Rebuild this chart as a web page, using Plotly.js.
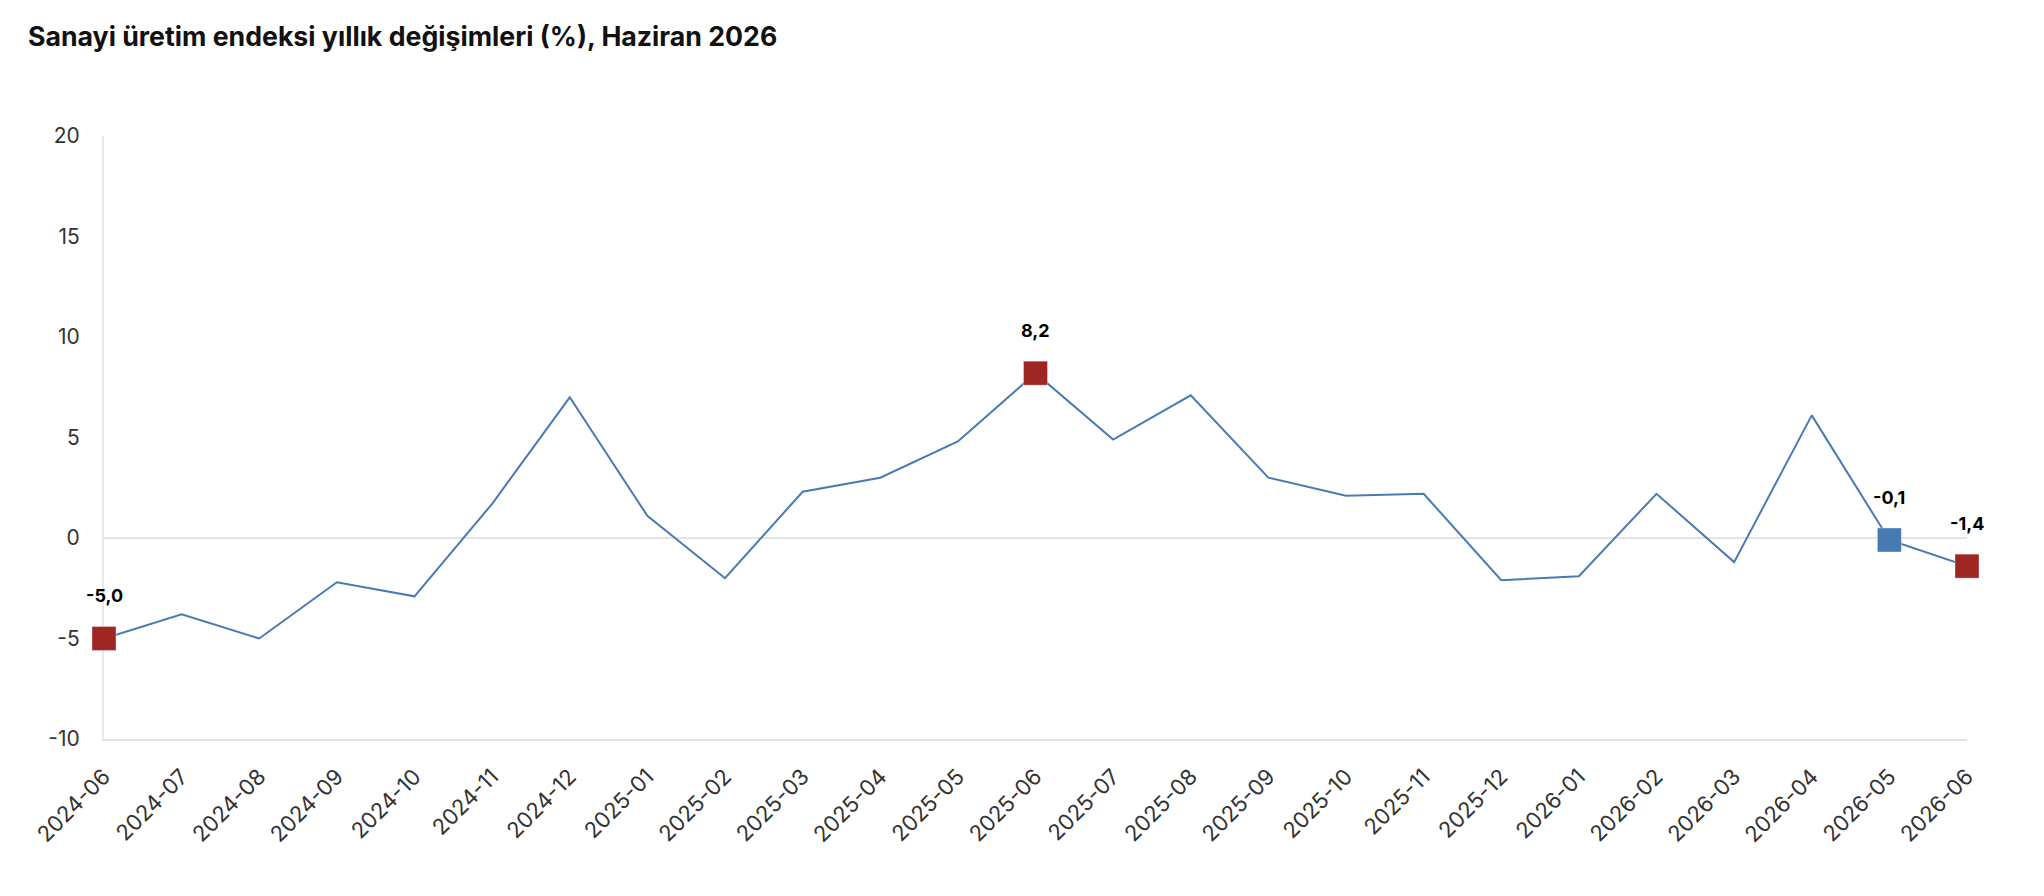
<!DOCTYPE html>
<html>
<head>
<meta charset="utf-8">
<script src="https://cdn.plot.ly/plotly-3.0.1.min.js"></script>
<style>
  html, body { margin: 0; padding: 0; background: #fff; }
  #chart { width: 2044px; height: 896px; }
</style>
</head>
<body>
<div id="chart"></div>
<script>
/* Sanayi üretim endeksi — yıllık değişim (%) */
var months = [
  '2024-06', '2024-07', '2024-08', '2024-09', '2024-10', '2024-11', '2024-12',
  '2025-01', '2025-02', '2025-03', '2025-04', '2025-05', '2025-06', '2025-07',
  '2025-08', '2025-09', '2025-10', '2025-11', '2025-12', '2026-01', '2026-02',
  '2026-03', '2026-04', '2026-05', '2026-06'
];
var values = [
  -5.0, -3.8, -5.0, -2.2, -2.9, 1.7, 7.0,
  1.1, -2.0, 2.3, 3.0, 4.8, 8.2, 4.9,
  7.1, 3.0, 2.1, 2.2, -2.1, -1.9, 2.2,
  -1.2, 6.1, -0.1, -1.4
];
var redIdx  = [0, 12, 24];   // ilk, en yüksek, son ay
var blueIdx = [23];          // önceki ay
var yTicks  = [-10, -5, 0, 5, 10, 15, 20];

var C = {
  line:  '#4a7ab4',
  red:   '#9e2724',
  blue:  '#467ab3',
  text:  '#333333',
  grid:  '#e3e3e3',
  axis:  '#e4e8ef'
};
var FONT = 'Inter, "Noto Sans", sans-serif';

function fmt(v) { return v.toFixed(1).replace('.', ','); }
function pick(arr, idx) { return idx.map(function (i) { return arr[i]; }); }

var markIdx = redIdx.concat(blueIdx);
var markColors = redIdx.map(function () { return C.red; })
  .concat(blueIdx.map(function () { return C.blue; }));

var traces = [
  {
    type: 'scatter', mode: 'lines',
    x: months, y: values,
    line: { color: C.line, width: 2 },
    hoverinfo: 'skip'
  },
  {
    type: 'scatter', mode: 'markers',
    x: pick(months, markIdx), y: pick(values, markIdx),
    marker: {
      symbol: 'square', size: 24, color: markColors,
      line: { color: 'rgba(255,255,255,0.35)', width: 1 }
    },
    cliponaxis: false,
    hoverinfo: 'skip'
  }
];

var annotations = markIdx.map(function (i) {
  return {
    x: months[i], y: values[i], xref: 'x', yref: 'y',
    text: fmt(values[i]), showarrow: false,
    yshift: 43,
    font: { family: FONT, size: 18, color: '#000', weight: 'bold' }
  };
});

var layout = {
  width: 2044, height: 896,
  paper_bgcolor: '#fff', plot_bgcolor: '#fff',
  font: { family: FONT, color: C.text, size: 21 },
  margin: { l: 104, r: 77, t: 136, b: 157 },
  showlegend: false,
  title: {
    text: '<b>Sanayi üretim endeksi yıllık değişimleri (%), Haziran 2026</b>',
    xref: 'container', yref: 'container',
    x: 28 / 2044, xanchor: 'left',
    y: 1 - 37 / 896, yanchor: 'middle',
    font: { family: FONT, size: 26.7, color: '#111' }
  },
  xaxis: {
    type: 'category',
    range: [0, months.length - 1],
    tickangle: -45,
    tickfont: { family: FONT, size: 22, color: C.text },
    showgrid: false, zeroline: false,
    showline: true, linecolor: C.grid, linewidth: 2,
    ticks: '', ticklabelstandoff: 14,
    layer: 'below traces',
    fixedrange: true
  },
  yaxis: {
    range: [-10, 20],
    tickvals: yTicks,
    ticktext: yTicks.map(String),
    tickfont: { family: FONT, size: 21, color: C.text },
    showgrid: false,
    zeroline: true, zerolinecolor: C.grid, zerolinewidth: 2,
    showline: true, linecolor: C.axis, linewidth: 2,
    ticks: '', ticklabelstandoff: 18,
    layer: 'below traces',
    fixedrange: true
  },
  annotations: annotations
};

Plotly.newPlot('chart', traces, layout, { displayModeBar: false, staticPlot: true });
</script>
</body>
</html>
